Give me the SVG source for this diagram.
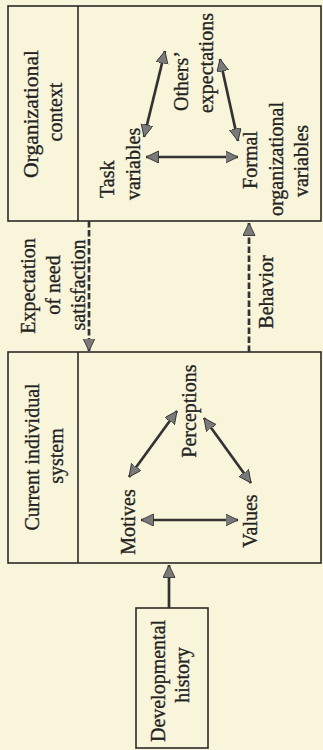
<svg xmlns="http://www.w3.org/2000/svg" width="323" height="750" viewBox="0 0 323 750">
<style>
.bg{fill:#f9f5db}
.box{fill:none;stroke:#2a2a2a;stroke-width:1.6}
.t{font-family:"Liberation Serif","Times New Roman",serif;font-size:20px;fill:#222;stroke:#222;stroke-width:0.3}
.m{text-anchor:middle}
.s{text-anchor:start}
.c{stroke:#333;stroke-width:2.7;fill:none}
.d{stroke:#333;stroke-width:2.7;fill:none;stroke-dasharray:6.5 2.5}
</style>
<defs>
<marker id="ah" markerUnits="userSpaceOnUse" markerWidth="15" markerHeight="13" refX="12.5" refY="6" orient="auto-start-reverse" viewBox="0 0 15 13">
<path d="M0,0 L12.5,6 L0,12 z" fill="#7a7a7a" stroke="#333" stroke-width="0.9" stroke-linejoin="round"/>
</marker>
</defs>
<rect class="bg" x="0" y="0" width="323" height="750"/>

<g id="organizational-context">
<rect class="box" x="8" y="6" width="313" height="215"/>
<line class="box" x1="78" y1="6" x2="78" y2="221"/>
<text class="t m" transform="translate(38,114) rotate(-90) scale(1,1.1)" textLength="128" lengthAdjust="spacingAndGlyphs">Organizational</text>
<text class="t m" transform="translate(62,112) rotate(-90) scale(1,1.1)">context</text>
</g>

<g id="task-variables">
<text class="t s" transform="translate(114,198) rotate(-90) scale(1,1.1)">Task</text>
<text class="t s" transform="translate(140,200) rotate(-90) scale(1,1.1)">variables</text>
</g>

<g id="others-expectations">
<text class="t s" transform="translate(188,111) rotate(-90) scale(1,1.1)">Others’</text>
<text class="t s" transform="translate(213,113) rotate(-90) scale(1,1.1)">expectations</text>
</g>

<g id="formal-organizational-variables">
<text class="t m" transform="translate(257,160) rotate(-90) scale(1,1.1)">Formal</text>
<text class="t m" transform="translate(283,159) rotate(-90) scale(1,1.1)">organizational</text>
<text class="t m" transform="translate(308,161) rotate(-90) scale(1,1.1)">variables</text>
</g>

<g id="current-individual-system">
<rect class="box" x="8" y="352" width="313" height="211"/>
<line class="box" x1="78" y1="352" x2="78" y2="563"/>
<text class="t m" transform="translate(39,457) rotate(-90) scale(1,1.1)">Current individual</text>
<text class="t m" transform="translate(63,456) rotate(-90) scale(1,1.1)">system</text>
</g>

<g id="perceptions">
<text class="t m" transform="translate(196,411) rotate(-90) scale(1,1.1)">Perceptions</text>
</g>

<g id="motives">
<text class="t m" transform="translate(135,522) rotate(-90) scale(1,1.1)">Motives</text>
</g>

<g id="values">
<text class="t m" transform="translate(257,521) rotate(-90) scale(1,1.1)">Values</text>
</g>

<g id="developmental-history">
<rect class="box" x="136" y="608" width="72" height="140"/>
<text class="t m" transform="translate(165,681) rotate(-90) scale(1,1.1)">Developmental</text>
<text class="t m" transform="translate(189,675) rotate(-90) scale(1,1.1)">history</text>
</g>

<g id="connectors">
<line class="c" x1="146" y1="157" x2="238" y2="157" marker-start="url(#ah)" marker-end="url(#ah)"/>
<line class="c" x1="144" y1="137" x2="165" y2="51" marker-start="url(#ah)" marker-end="url(#ah)"/>
<line class="c" x1="220" y1="59" x2="238" y2="141" marker-start="url(#ah)" marker-end="url(#ah)"/>
<line class="c" x1="141" y1="520" x2="238" y2="520" marker-start="url(#ah)" marker-end="url(#ah)"/>
<line class="c" x1="129" y1="477" x2="177" y2="411" marker-start="url(#ah)" marker-end="url(#ah)"/>
<line class="c" x1="204" y1="418" x2="251" y2="483" marker-start="url(#ah)" marker-end="url(#ah)"/>
<line class="d" x1="89" y1="221" x2="89" y2="351" marker-end="url(#ah)"/>
<line class="d" x1="249" y1="352" x2="249" y2="223" marker-end="url(#ah)"/>
<line class="c" x1="169" y1="608" x2="169" y2="565" marker-end="url(#ah)"/>
<g id="label-expectation">
<text class="t m" transform="translate(35,286) rotate(-90) scale(1,1.1)">Expectation</text>
<text class="t m" transform="translate(60,285) rotate(-90) scale(1,1.1)">of need</text>
<text class="t m" transform="translate(85,285) rotate(-90) scale(1,1.1)">satisfaction</text>
</g>
<g id="label-behavior">
<text class="t m" transform="translate(273,292) rotate(-90) scale(1,1.1)">Behavior</text>
</g>
</g>
</svg>
